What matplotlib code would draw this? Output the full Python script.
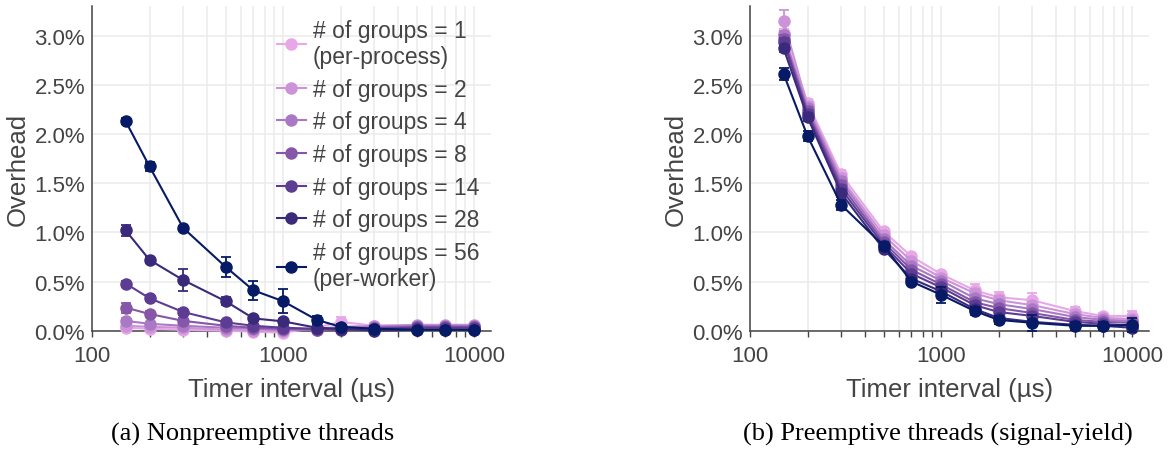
import matplotlib
matplotlib.use("Agg")
import matplotlib.pyplot as plt
from matplotlib.ticker import FuncFormatter, LogLocator, NullFormatter, FixedLocator

plt.rcParams['font.family'] = ['Liberation Sans', 'DejaVu Sans']

intervals = [150, 200, 300, 500, 700, 1000, 1500, 2000, 3000, 5000, 7000, 10000]
group_labels = ["# of groups = 1\n(per-process)", "# of groups = 2", "# of groups = 4",
                "# of groups = 8", "# of groups = 14", "# of groups = 28",
                "# of groups = 56\n(per-worker)"]
colors = ["#E8A8E8", "#CD93D9", "#AA79C5", "#8656A9", "#5D3C94", "#3B2A7C", "#061A66"]

# (a) Nonpreemptive threads: overhead in %
nonpre_g1 = [0.03, 0.02, 0.01, 0.00, -0.01, -0.02, 0.03, 0.09, 0.05, 0.05, 0.05, 0.05]
nonpre_g2 = [0.05, 0.04, 0.03, 0.01, 0.00, 0.00, 0.02, 0.04, 0.05, 0.06, 0.06, 0.06]
nonpre_g4 = [0.10, 0.07, 0.05, 0.03, 0.02, 0.01, 0.01, 0.03, 0.04, 0.05, 0.05, 0.05]
nonpre_g8 = [0.235, 0.17, 0.10, 0.05, 0.03, 0.02, 0.01, 0.02, 0.03, 0.04, 0.04, 0.04]
nonpre_g14 = [0.48, 0.33, 0.19, 0.085, 0.05, 0.03, 0.02, 0.01, 0.02, 0.03, 0.03, 0.03]
nonpre_g28 = [1.02, 0.72, 0.515, 0.30, 0.125, 0.095, 0.03, 0.02, 0.00, 0.01, 0.01, 0.01]
nonpre_g56 = [2.13, 1.67, 1.045, 0.65, 0.41, 0.30, 0.11, 0.04, 0.02, 0.01, 0.01, 0.01]

nonpre_err_g1 = [0.02, 0.02, 0.02, 0.02, 0.02, 0.02, 0.03, 0.05, 0.03, 0.02, 0.02, 0.02]
nonpre_err_g2 = [0.03, 0.02, 0.02, 0.02, 0.02, 0.02, 0.02, 0.02, 0.02, 0.02, 0.02, 0.02]
nonpre_err_g4 = [0.03, 0.02, 0.02, 0.02, 0.02, 0.02, 0.02, 0.02, 0.02, 0.02, 0.02, 0.02]
nonpre_err_g8 = [0.05, 0.03, 0.03, 0.02, 0.02, 0.02, 0.02, 0.02, 0.02, 0.02, 0.02, 0.02]
nonpre_err_g14 = [0.03, 0.03, 0.03, 0.02, 0.02, 0.02, 0.02, 0.02, 0.02, 0.02, 0.02, 0.02]
nonpre_err_g28 = [0.06, 0.03, 0.11, 0.04, 0.02, 0.02, 0.02, 0.02, 0.02, 0.02, 0.02, 0.02]
nonpre_err_g56 = [0.03, 0.05, 0.02, 0.10, 0.10, 0.12, 0.04, 0.03, 0.03, 0.02, 0.02, 0.02]

# (b) Preemptive threads (signal-yield): overhead in %
pre_g1 = [3.03, 2.32, 1.59, 1.01, 0.755, 0.575, 0.41, 0.34, 0.31, 0.20, 0.15, 0.15]
pre_g2 = [3.15, 2.29, 1.55, 0.97, 0.71, 0.54, 0.38, 0.31, 0.26, 0.17, 0.13, 0.12]
pre_g4 = [3.01, 2.26, 1.52, 0.93, 0.66, 0.51, 0.33, 0.27, 0.22, 0.14, 0.11, 0.10]
pre_g8 = [2.97, 2.23, 1.48, 0.90, 0.62, 0.47, 0.29, 0.23, 0.18, 0.11, 0.09, 0.08]
pre_g14 = [2.94, 2.20, 1.44, 0.87, 0.58, 0.44, 0.26, 0.19, 0.15, 0.09, 0.07, 0.05]
pre_g28 = [2.87, 2.17, 1.40, 0.83, 0.53, 0.40, 0.22, 0.13, 0.09, 0.06, 0.05, 0.03]
pre_g56 = [2.61, 1.98, 1.28, 0.865, 0.50, 0.365, 0.20, 0.11, 0.08, 0.05, 0.05, 0.06]

pre_err_g1 = [0.04, 0.04, 0.04, 0.03, 0.03, 0.03, 0.07, 0.05, 0.07, 0.04, 0.03, 0.05]
pre_err_g2 = [0.11, 0.04, 0.04, 0.03, 0.03, 0.03, 0.04, 0.04, 0.03, 0.03, 0.03, 0.03]
pre_err_g4 = [0.04, 0.04, 0.04, 0.03, 0.03, 0.03, 0.03, 0.03, 0.03, 0.03, 0.03, 0.03]
pre_err_g8 = [0.04, 0.04, 0.04, 0.03, 0.03, 0.03, 0.03, 0.03, 0.03, 0.03, 0.03, 0.03]
pre_err_g14 = [0.04, 0.04, 0.04, 0.03, 0.03, 0.03, 0.03, 0.03, 0.03, 0.03, 0.03, 0.03]
pre_err_g28 = [0.04, 0.04, 0.04, 0.03, 0.03, 0.03, 0.03, 0.03, 0.03, 0.03, 0.03, 0.03]
pre_err_g56 = [0.06, 0.05, 0.05, 0.04, 0.03, 0.08, 0.04, 0.04, 0.08, 0.04, 0.04, 0.07]

nonpre = [nonpre_g1, nonpre_g2, nonpre_g4, nonpre_g8, nonpre_g14, nonpre_g28, nonpre_g56]
nonpre_err = [nonpre_err_g1, nonpre_err_g2, nonpre_err_g4, nonpre_err_g8, nonpre_err_g14,
              nonpre_err_g28, nonpre_err_g56]
pre = [pre_g1, pre_g2, pre_g4, pre_g8, pre_g14, pre_g28, pre_g56]
pre_err = [pre_err_g1, pre_err_g2, pre_err_g4, pre_err_g8, pre_err_g14, pre_err_g28, pre_err_g56]

y_ticks = [0.0, 0.5, 1.0, 1.5, 2.0, 2.5, 3.0]
x_ticks = [100, 1000, 10000]

W, H = 1169, 452
fig = plt.figure(figsize=(W / 100, H / 100), dpi=100)
TXT = "#444444"

def make_ax(left_px):
    ax = fig.add_axes([left_px / W, (H - 331.7) / H, 399 / W, 324.5 / H])
    return ax

axes = [make_ax(92), make_ax(750)]
datasets = [(nonpre, nonpre_err), (pre, pre_err)]
legend_handles = []

for k, (ax, (vals, errs)) in enumerate(zip(axes, datasets)):
    ax.set_xscale('log')
    for i in range(len(vals)):
        c = ax.errorbar(intervals, vals[i], yerr=errs[i], color=colors[i], marker='o',
                        markersize=8, linewidth=1.5, elinewidth=1.3, capsize=3.6,
                        capthick=1.3, label=group_labels[i], clip_on=False, zorder=3 + i)
        if k == 0:
            legend_handles.append(c[0])
    ax.set_xlim(100, 12250)
    ax.set_ylim(0, 3.3)
    ax.set_yticks(y_ticks)
    ax.yaxis.set_major_formatter(FuncFormatter(lambda v, p: f"{v:.1f}%"))
    ax.xaxis.set_major_locator(FixedLocator(x_ticks))
    ax.xaxis.set_major_formatter(FuncFormatter(lambda v, p: f"{int(round(v))}"))
    ax.xaxis.set_minor_locator(LogLocator(base=10, subs=range(2, 10)))
    ax.xaxis.set_minor_formatter(NullFormatter())
    ax.grid(True, which='both', axis='x', color='#ebebeb', linewidth=1.1, zorder=0)
    ax.grid(True, which='major', axis='y', color='#ebebeb', linewidth=1.1, zorder=0)
    ax.set_axisbelow(True)
    for s in ['top', 'right']:
        ax.spines[s].set_visible(False)
    for s in ['left', 'bottom']:
        ax.spines[s].set_color(TXT)
        ax.spines[s].set_linewidth(1.1)
    ax.tick_params(axis='y', length=0, pad=5, labelsize=16, labelcolor=TXT)
    ax.tick_params(axis='x', which='major', length=4, width=1, color=TXT, pad=6,
                   labelsize=16, labelcolor=TXT, direction='out')
    ax.tick_params(axis='x', which='minor', length=4, width=1, color=TXT, direction='out')
    ax.set_xlabel("Timer interval (µs)", fontsize=18.5, color=TXT, labelpad=8)
    ax.set_ylabel("Overhead", fontsize=18.5, color=TXT, labelpad=3)

leg = axes[0].legend(handles=legend_handles, labels=group_labels, loc='upper left',
                     bbox_to_anchor=(0.4637, 0.962), frameon=False,
                     fontsize=16.5, handlelength=1.25, handletextpad=0.3,
                     labelspacing=0.42, borderaxespad=0, borderpad=0)
for t in leg.get_texts():
    t.set_color(TXT)

fig.text(253 / W, 1 - 434 / H, "(a) Nonpreemptive threads", ha='center', va='center',
         fontsize=19, family=['Liberation Serif', 'DejaVu Serif'], color='black')
fig.text(938 / W, 1 - 434 / H, "(b) Preemptive threads (signal-yield)", ha='center',
         va='center', fontsize=19, family=['Liberation Serif', 'DejaVu Serif'], color='black')

fig.savefig("out.png", dpi=100)
